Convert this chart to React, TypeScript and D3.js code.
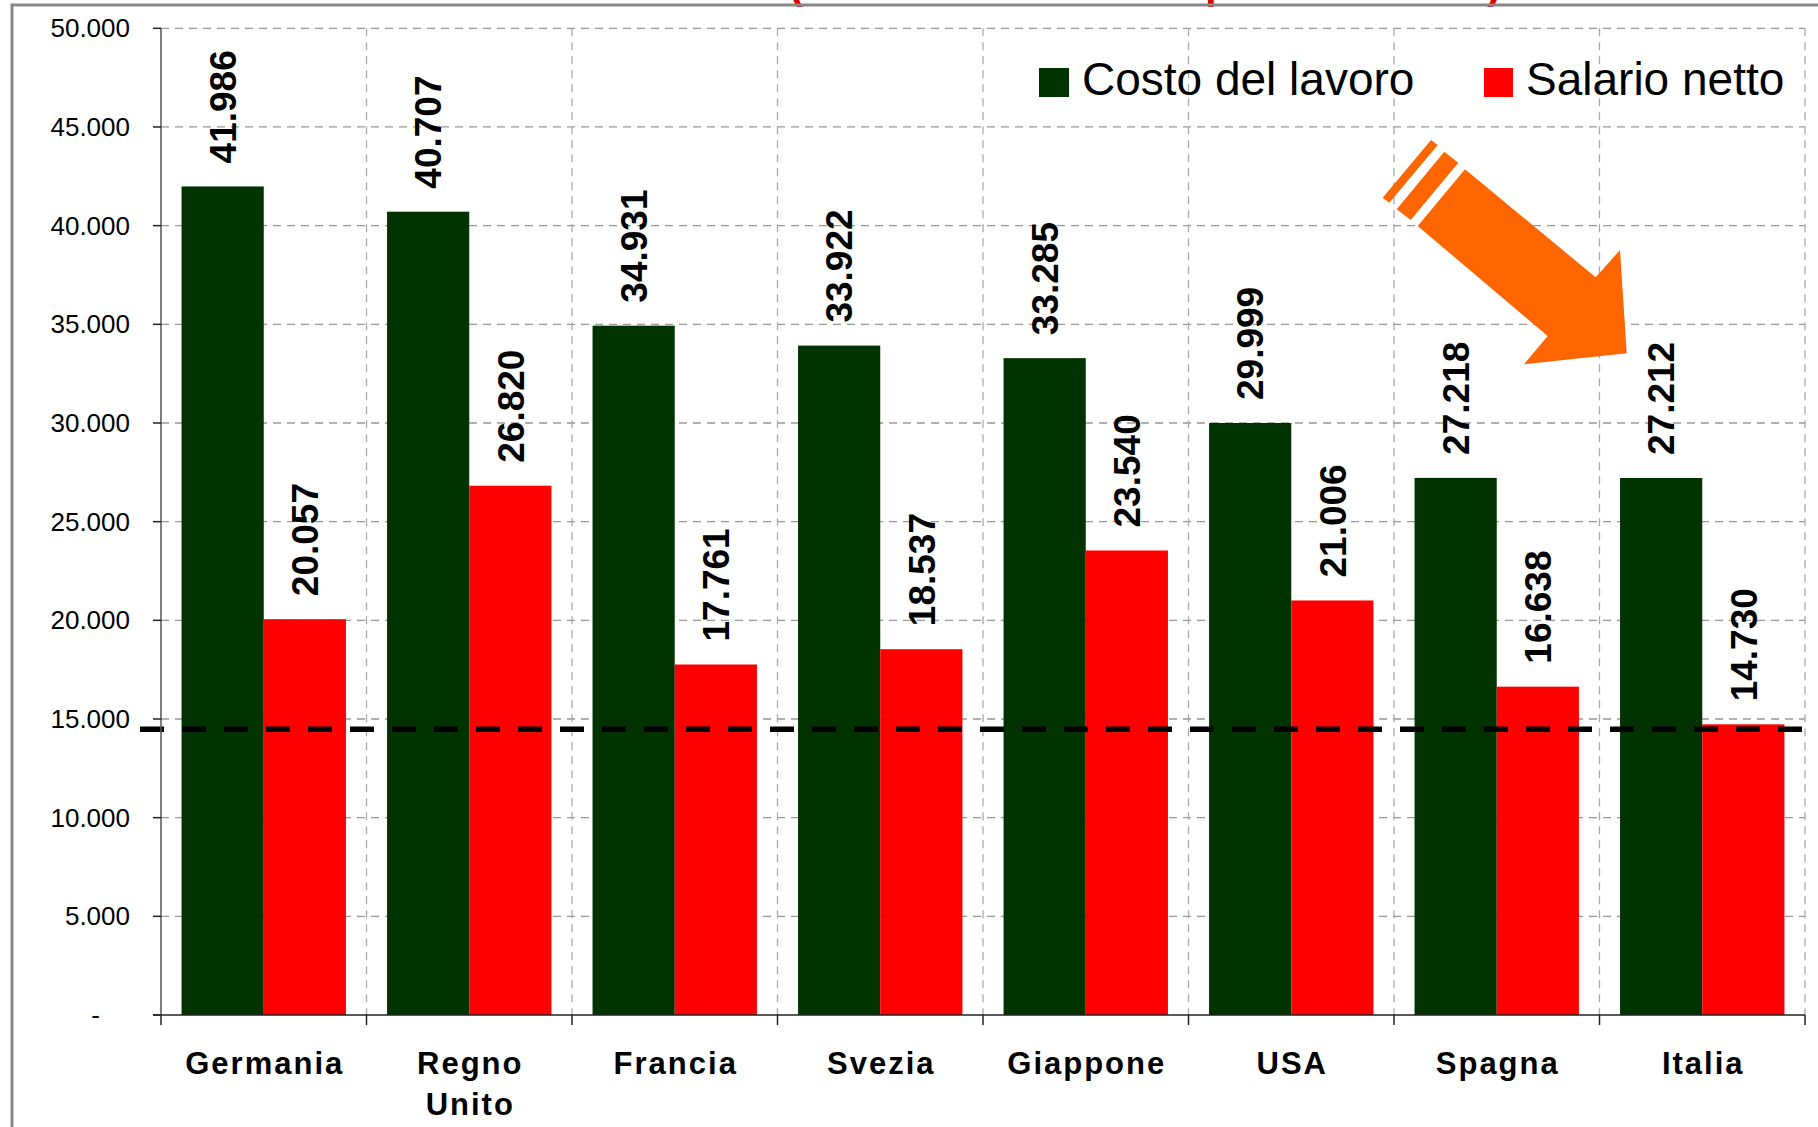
import React from "react";
import * as d3 from "d3";

const countries = ["Germania", "Regno Unito", "Francia", "Svezia", "Giappone", "USA", "Spagna", "Italia"];
const costoLavoro = [41986, 40707, 34931, 33922, 33285, 29999, 27218, 27212];
const salarioNetto = [20057, 26820, 17761, 18537, 23540, 21006, 16638, 14730];
const yTicks = [0, 5000, 10000, 15000, 20000, 25000, 30000, 35000, 40000, 45000, 50000];
const seriesNames = ["Costo del lavoro", "Salario netto"];
const referenceLevel = 14480;
const titleText = "(valori annui in euro per lavoratore)";

const W = 1818;
const H = 1127;
const GREEN = "#003300";
const RED = "#FF0000";
const ORANGE = "#FF6600";
const FONT = "'Liberation Sans', Arial, Helvetica, sans-serif";

const fmt = (v: number) => {
  if (v === 0) return "-";
  const s = Math.round(v).toString();
  return s.replace(/\B(?=(\d{3})+(?!\d))/g, ".");
};

export default function App() {
  const left = 161;
  const right = 1805;
  const top = 28.3;
  const bottom = 1015;

  const y = d3.scaleLinear().domain([0, 50000]).range([bottom, top]);
  const x = d3.scaleBand<string>().domain(countries).range([left, right]).paddingInner(0.2).paddingOuter(0.1);
  const step = x.step();
  const inner = d3.scaleBand<string>().domain(["c", "s"]).range([0, x.bandwidth()]).padding(0);
  const boundaries = d3.range(countries.length + 1).map((i) => left + i * step);

  const labelSize = 37;

  const arrowBody: [number, number][] = [
    [1465, 169.3],
    [1595.7, 277.3],
    [1620, 250],
    [1626.7, 353.3],
    [1524, 364.3],
    [1547.7, 336],
    [1417.7, 226],
  ];
  const stripe1: [number, number][] = [
    [1444.3, 151.7],
    [1458.3, 162.7],
    [1410.7, 220],
    [1396.7, 209.3],
  ];
  const stripe2: [number, number][] = [
    [1431, 140],
    [1437.7, 145],
    [1389.3, 202.7],
    [1382.7, 197.7],
  ];
  const poly = (pts: [number, number][]) => pts.map((p) => p.join(",")).join(" ");

  return (
    <svg
      width={W}
      height={H}
      viewBox={`0 0 ${W} ${H}`}
      style={{ position: "absolute", left: 0, top: 0, background: "#fff" }}
      fontFamily={FONT}
    >
      <rect x={0} y={0} width={W} height={H} fill="#fff" />
      {/* cropped title */}
      <text
        x={1145}
        y={-1.5}
        textAnchor="middle"
        fontSize={40}
        fontWeight="bold"
        fill="#E00000"
        textLength={712}
        lengthAdjust="spacingAndGlyphs"
      >
        {titleText}
      </text>
      {/* outer frame */}
      <rect x={12} y={5} width={W + 20} height={H + 20} fill="none" stroke="#888" strokeWidth={3} />

      {/* horizontal gridlines */}
      {yTicks.filter((t) => t > 0).map((t) => (
        <line key={"hg" + t} x1={left} x2={right} y1={y(t)} y2={y(t)} stroke="#999" strokeWidth={1.3} strokeDasharray="8,6" />
      ))}
      {/* vertical gridlines */}
      {boundaries.slice(1).map((bx, i) => (
        <line key={"vg" + i} x1={bx} x2={bx} y1={top} y2={bottom} stroke="#aaa" strokeWidth={1.3} strokeDasharray="8,6" />
      ))}

      {/* bars */}
      {countries.map((c, i) => (
        <g key={c}>
          <rect x={(x(c) as number) + (inner("c") as number)} y={y(costoLavoro[i])} width={inner.bandwidth()} height={bottom - y(costoLavoro[i])} fill={GREEN} />
          <rect x={(x(c) as number) + (inner("s") as number)} y={y(salarioNetto[i])} width={inner.bandwidth()} height={bottom - y(salarioNetto[i])} fill={RED} />
        </g>
      ))}

      {/* value labels */}
      {countries.map((c, i) => {
        const gx = (x(c) as number) + (inner("c") as number) + inner.bandwidth() / 2;
        const rx = (x(c) as number) + (inner("s") as number) + inner.bandwidth() / 2;
        const gy = y(costoLavoro[i]) - 23;
        const ry = y(salarioNetto[i]) - 23;
        return (
          <g key={"lbl" + c} fontSize={labelSize} fontWeight="bold" fill="#000">
            <text transform={`translate(${gx},${gy}) rotate(-90)`} dy="0.36em">{fmt(costoLavoro[i])}</text>
            <text transform={`translate(${rx},${ry}) rotate(-90)`} dy="0.36em">{fmt(salarioNetto[i])}</text>
          </g>
        );
      })}

      {/* reference dashed line */}
      <line x1={140} x2={right} y1={y(referenceLevel)} y2={y(referenceLevel)} stroke="#000" strokeWidth={5.5} strokeDasharray="24,18" />

      {/* y axis */}
      <line x1={left} x2={left} y1={top} y2={bottom} stroke="#555" strokeWidth={1.5} />
      {yTicks.map((t) => (
        <g key={"yt" + t}>
          <line x1={153} x2={left} y1={y(t)} y2={y(t)} stroke="#222" strokeWidth={1.5} />
          <text x={t === 0 ? 100 : 130} y={y(t)} dy="0.35em" textAnchor="end" fontSize={26} fill="#000">
            {fmt(t)}
          </text>
        </g>
      ))}

      {/* x axis */}
      <line x1={153} x2={right} y1={bottom} y2={bottom} stroke="#222" strokeWidth={1.5} />
      {boundaries.map((bx, i) => (
        <line key={"xt" + i} x1={bx} x2={bx} y1={bottom} y2={bottom + 10} stroke="#222" strokeWidth={1.5} />
      ))}
      {countries.map((c) => {
        const cx = (x(c) as number) + x.bandwidth() / 2;
        const words = c === "Regno Unito" ? ["Regno", "Unito"] : [c];
        return (
          <text key={"xl" + c} x={cx} y={1074} textAnchor="middle" fontSize={31} fontWeight="bold" letterSpacing={2} fill="#000">
            {words.map((w, j) => (
              <tspan key={w} x={cx + 1} dy={j === 0 ? 0 : 41}>{w}</tspan>
            ))}
          </text>
        );
      })}

      {/* legend */}
      <rect x={1039} y={68} width={30} height={29} fill={GREEN} />
      <text x={1082} y={95} fontSize={46} fill="#000">{seriesNames[0]}</text>
      <rect x={1484} y={68} width={29} height={29} fill={RED} />
      <text x={1526} y={95} fontSize={46} fill="#000">{seriesNames[1]}</text>

      {/* arrow */}
      <polygon points={poly(arrowBody)} fill={ORANGE} />
      <polygon points={poly(stripe1)} fill={ORANGE} />
      <polygon points={poly(stripe2)} fill={ORANGE} />
    </svg>
  );
}
